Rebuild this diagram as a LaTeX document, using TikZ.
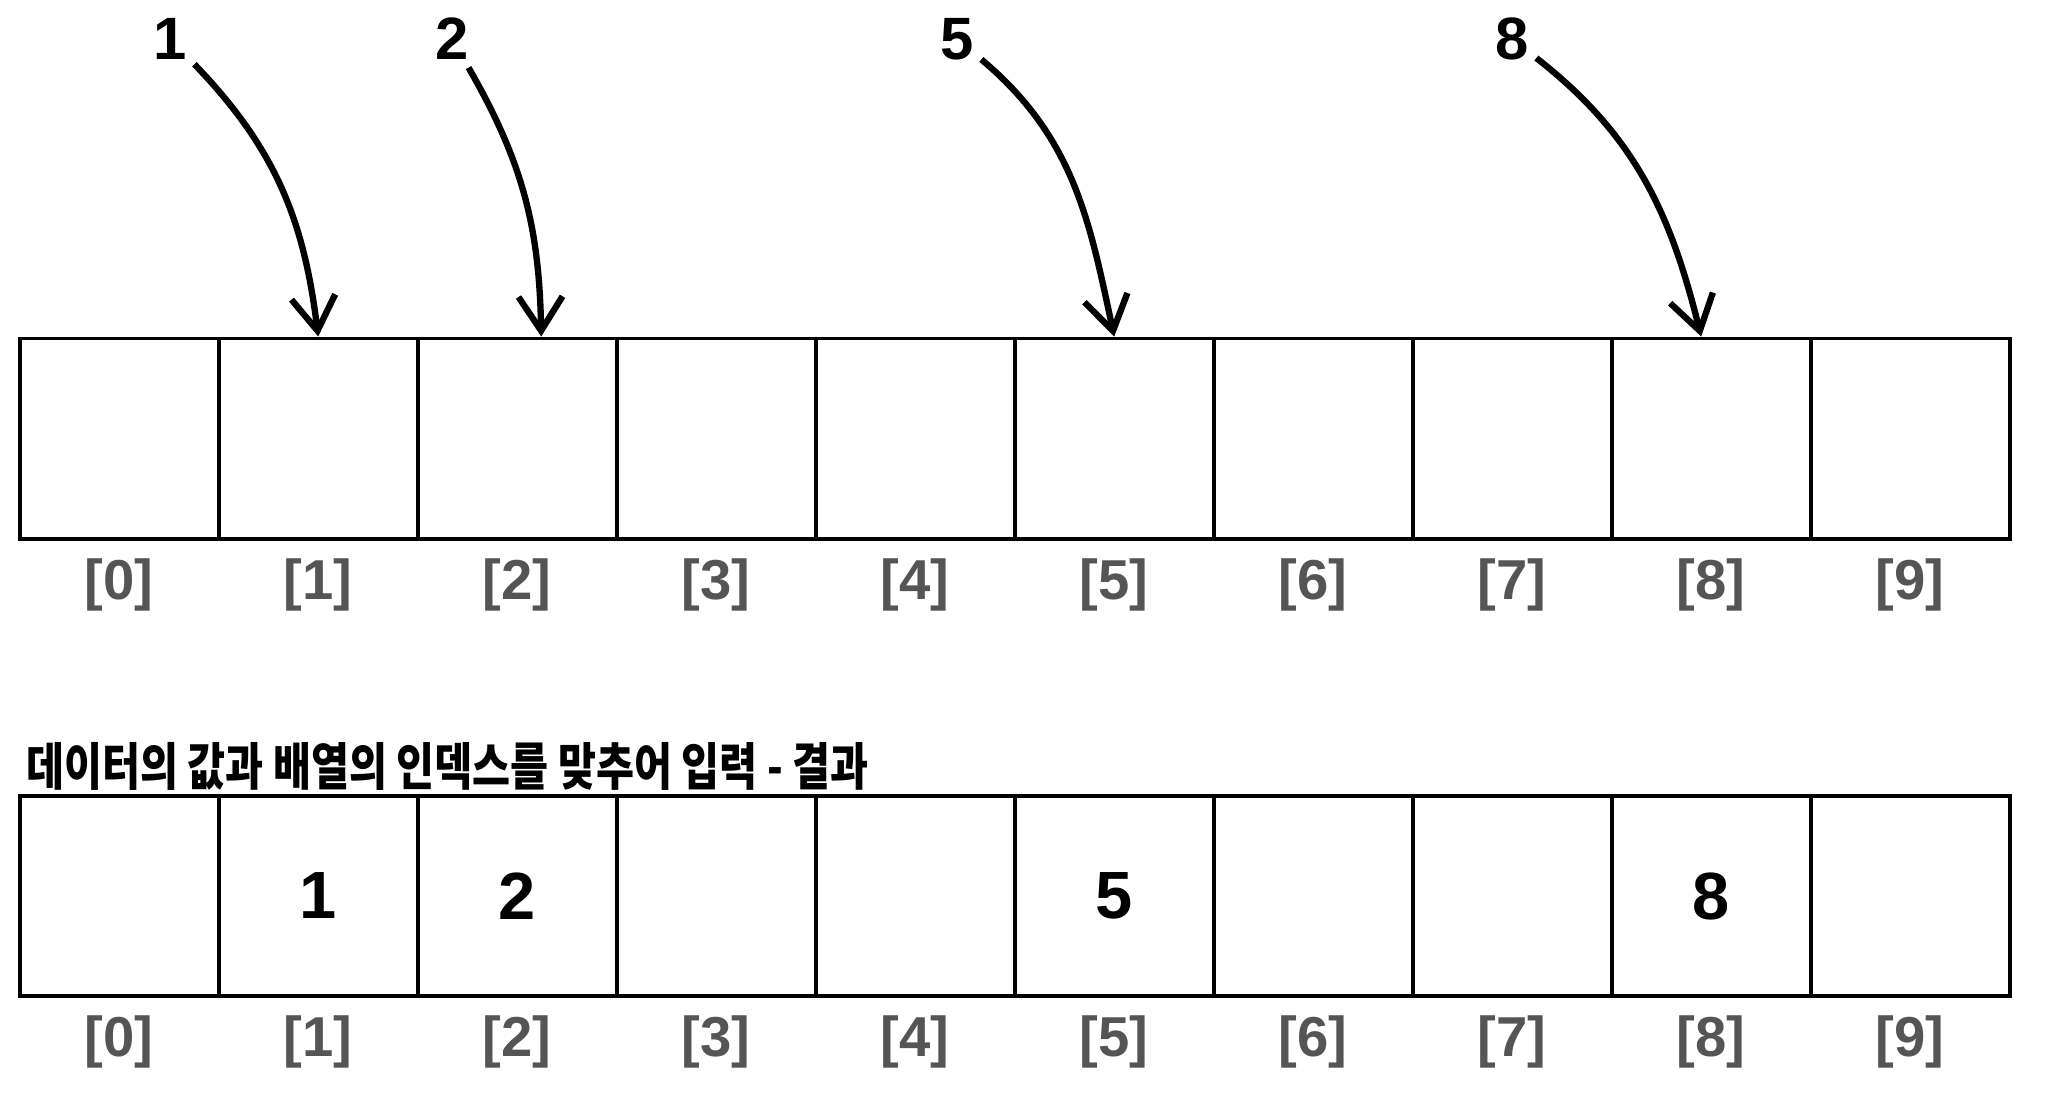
\documentclass[tikz,border=0pt]{standalone}
\usepackage{fontspec}
\setmainfont{Liberation Sans}
\newfontfamily\cjk{Noto Sans CJK KR}[FakeStretch=0.81]
\usetikzlibrary{arrows.meta}
\definecolor{idxgray}{HTML}{555555}
\tikzset{
  cell/.style={draw,line width=1.1pt,minimum width=1.99cm,minimum height=2.0cm,inner sep=0pt,font=\bfseries\fontsize{18}{20}\selectfont},
  idx/.style={text=idxgray,font=\bfseries\fontsize{16}{18}\selectfont},
  val/.style={font=\bfseries\fontsize{17}{19}\selectfont,inner sep=2pt},
  move/.style={->,line width=1.8pt}
}
\begin{document}
\begin{tikzpicture}[x=0.01cm,y=-0.01cm,>={Straight Barb[length=3.4mm,width=4.4mm]}]
	\useasboundingbox (0,0) rectangle (2056,1096);
	% array before
	\foreach \i in {0,...,9}{
		\node[cell] (top\i) at (119.2+199*\i,438.5) {};
		\node[idx] (ti\i) at (119.2+199*\i,585) {[\i]};
	}
	% values to put in
	\node[val] (n1) at (170,39) {1};
	\node[val] (n2) at (452,39) {2};
	\node[val] (n5) at (957,39) {5};
	\node[val] (n8) at (1512,39) {8};
	\draw[move] (n1) to[out=-46,in=97] (top1.north);
	\draw[move] (n2) to[out=-60,in=91] ([xshift=0.24cm]top2.north);
	\draw[move] (n5) to[out=-40,in=102] (top5.north);
	\draw[move] (n8) to[out=-38,in=104] ([xshift=-0.1cm]top8.north);
	% result
	\node[anchor=west,font=\cjk\bfseries\fontsize{14.5}{16}\selectfont] (title) at (14,766) {데이터의 값과 배열의 인덱스를 맞추어 입력 - 결과};
	\foreach \i in {0,...,9}{
		\node[cell] (bot\i) at (119.2+199*\i,896) {};
		\node[idx] (bi\i) at (119.2+199*\i,1042) {[\i]};
	}
	\foreach \i in {1,2,5,8}
		\node at (bot\i) {\bfseries\fontsize{19}{21}\selectfont\i};
\end{tikzpicture}
\end{document}
